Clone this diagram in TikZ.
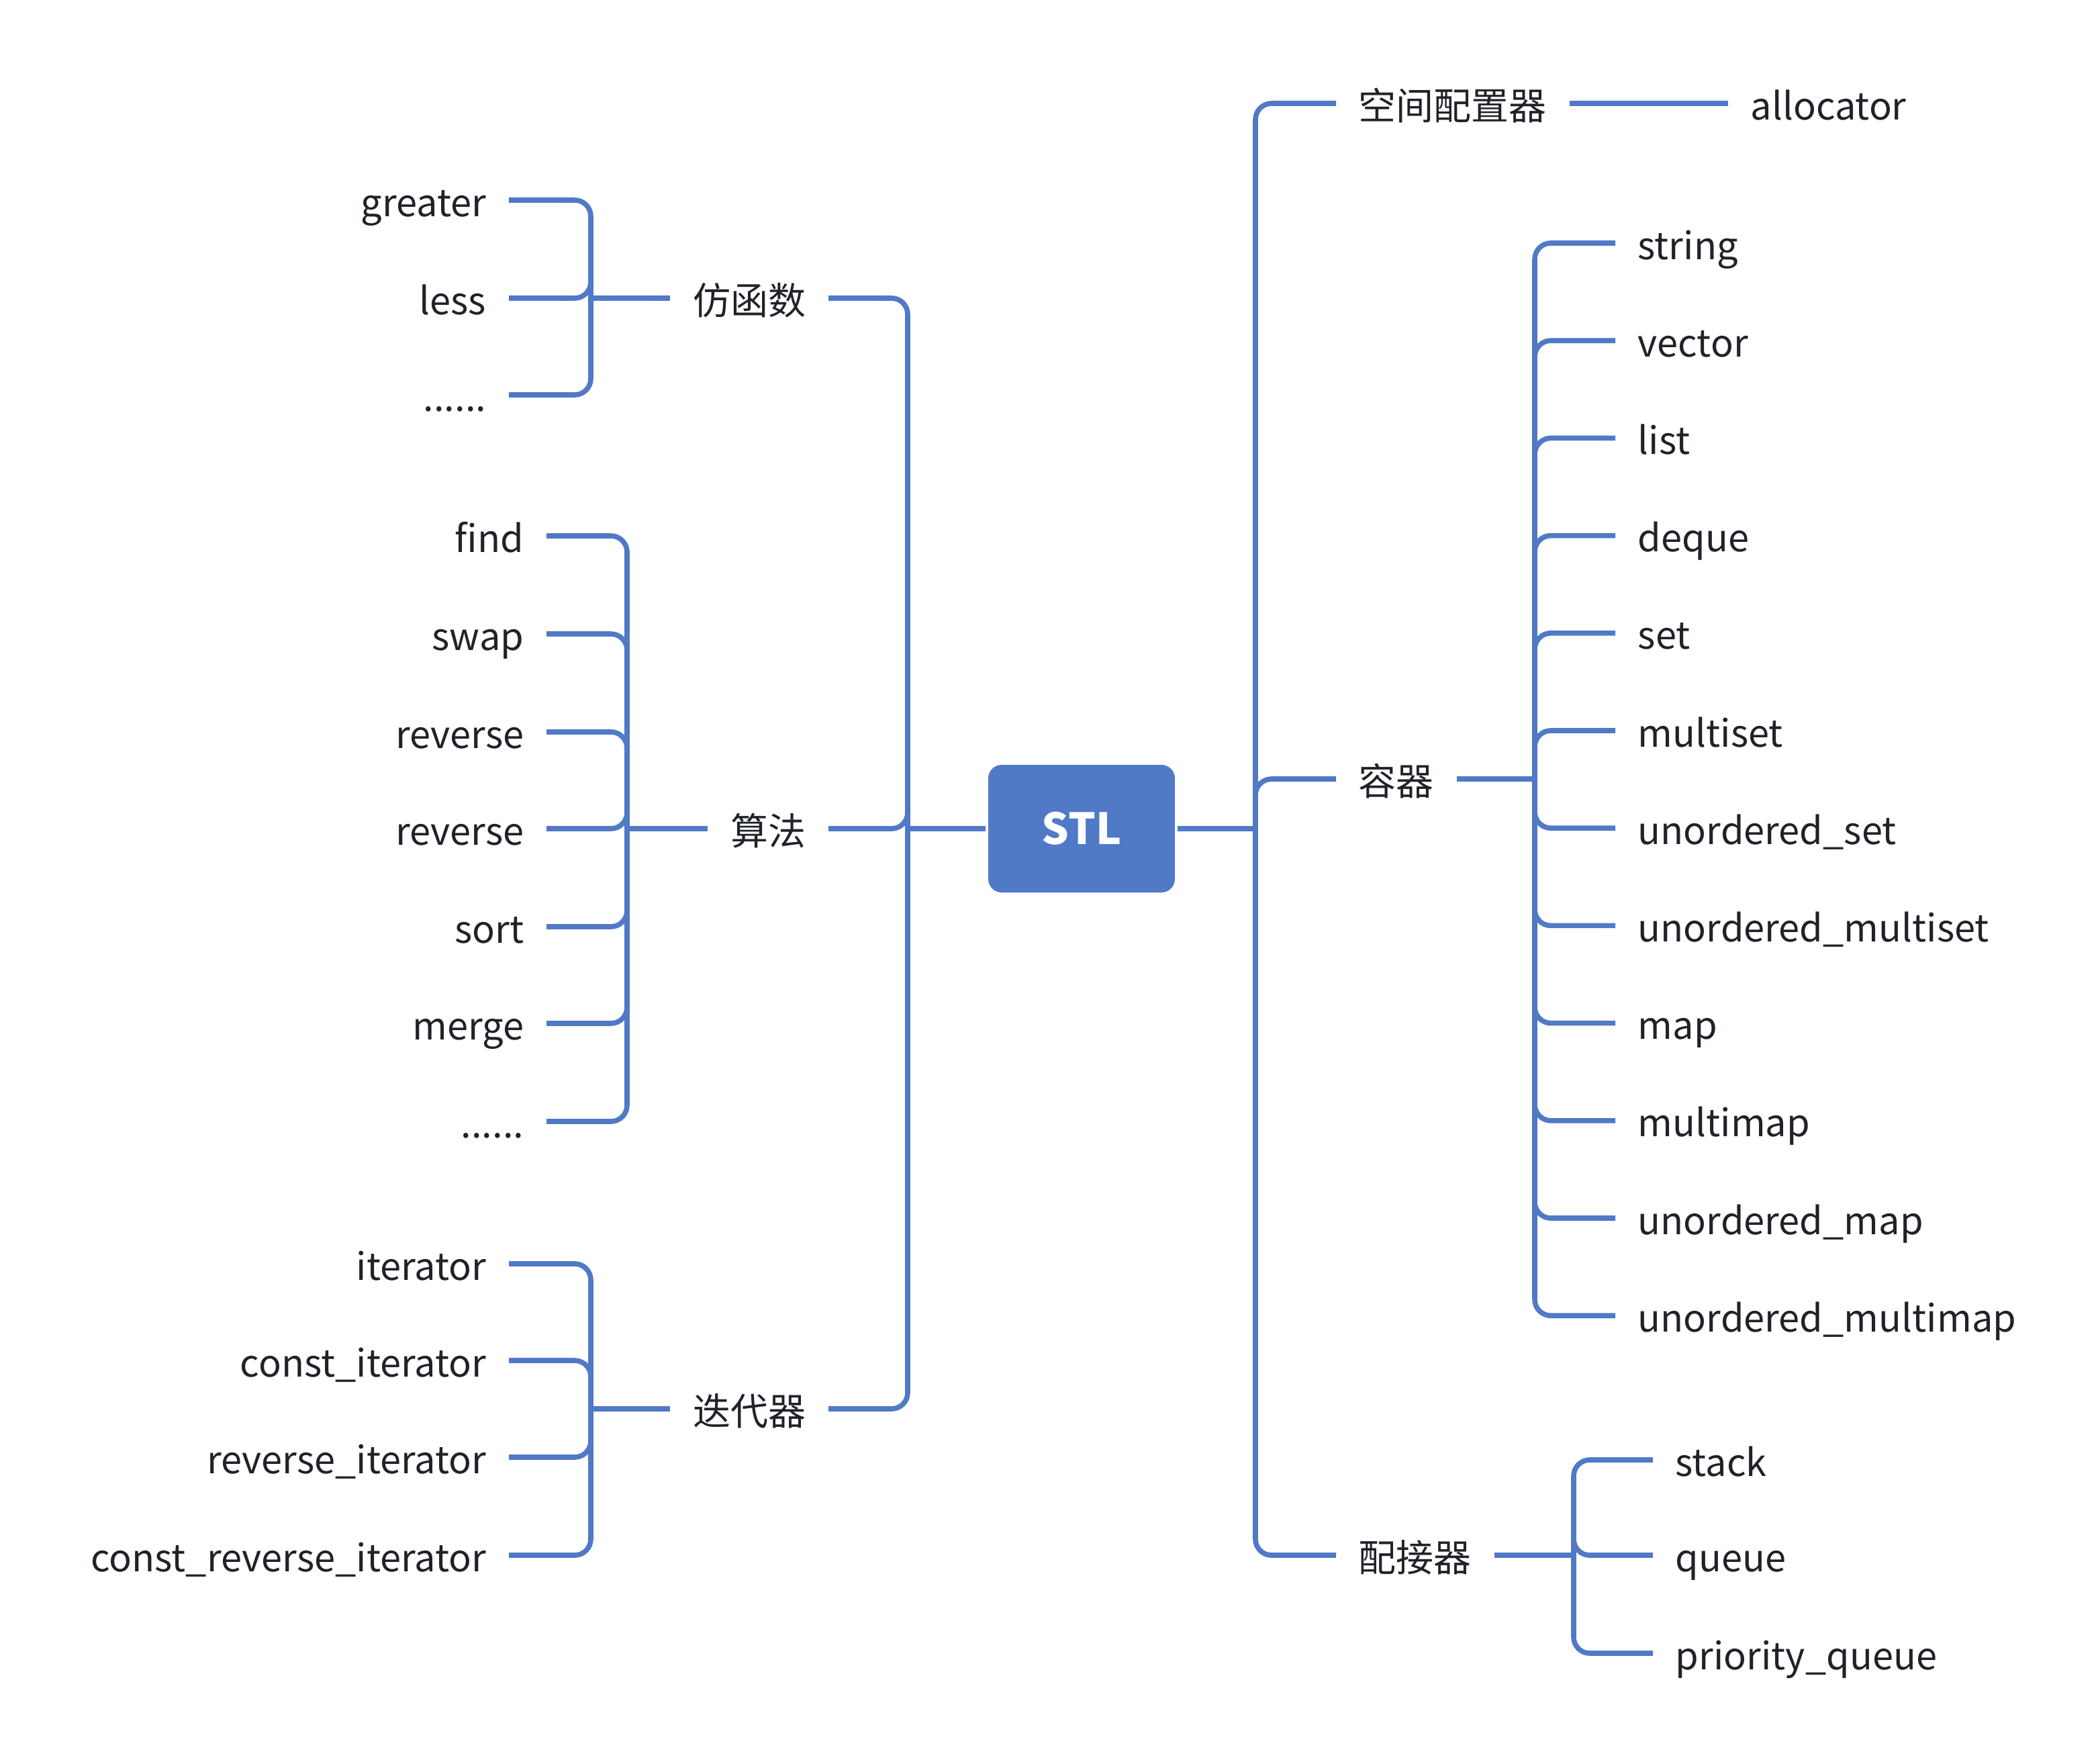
\documentclass[tikz,border=0pt]{standalone}
\usepackage{fontspec}
\newfontfamily\cjk{Noto Sans CJK SC}
\definecolor{branch}{HTML}{5079C6}
\definecolor{ink}{HTML}{1F2329}

\begin{document}
\begin{tikzpicture}[x=1pt,y=-1pt,line width=3.8pt,
    every node/.style={font=\cjk\fontsize{28}{33}\selectfont,text=ink}]
    \tikzstyle{leaf}=[inner xsep=15pt,inner ysep=0pt,text height=24pt,text depth=0pt]
    \tikzstyle{link}=[draw=branch,rounded corners=12pt]
    \tikzstyle{root}=[fill=branch,rounded corners=10pt,minimum width=139pt,
      minimum height=95pt,text=white,font=\cjk\bfseries\fontsize{32}{36}\selectfont]

    \useasboundingbox (0,0) rectangle (1564,1306);

    \node[root] (stl) at (805.5,617) {STL};
    \coordinate (ls) at (676,617);
    \coordinate (rs) at (935,617);

    % left: functors, algorithms, iterators
    \node[leaf,anchor=east] (fang) at (617,222) {仿函数};
    \node[leaf,anchor=east] (suan) at (617,617) {算法};
    \node[leaf,anchor=east] (die) at (617,1049) {迭代器};
    \coordinate (fj) at (440,222);
    \coordinate (sj) at (467,617);
    \coordinate (dj) at (440,1049);

    \node[leaf,anchor=east] (greater) at (379,149) {greater};
    \node[leaf,anchor=east] (less) at (379,222) {less};
    \node[leaf,anchor=east] (fmore) at (379,294) {......};

    \node[leaf,anchor=east] (find) at (407,399) {find};
    \node[leaf,anchor=east] (swap) at (407,472) {swap};
    \node[leaf,anchor=east] (rev) at (407,545) {reverse};
    \node[leaf,anchor=east] (rev2) at (407,617) {reverse};
    \node[leaf,anchor=east] (sort) at (407,690) {sort};
    \node[leaf,anchor=east] (merge) at (407,762) {merge};
    \node[leaf,anchor=east] (smore) at (407,835) {......};

    \node[leaf,anchor=east] (it) at (379,941) {iterator};
    \node[leaf,anchor=east] (cit) at (379,1013) {const\_iterator};
    \node[leaf,anchor=east] (rit) at (379,1085) {reverse\_iterator};
    \node[leaf,anchor=east] (crit) at (379,1158) {const\_reverse\_iterator};

    % right: allocator, containers, adapters
    \node[leaf,anchor=west] (kong) at (995,77) {空间配置器};
    \node[leaf,anchor=west] (rong) at (995,580) {容器};
    \node[leaf,anchor=west] (pei) at (995,1158) {配接器};
    \node[leaf,anchor=west] (alloc) at (1287,77) {allocator};
    \coordinate (rj) at (1143,580);
    \coordinate (pj) at (1172,1158);

    \node[leaf,anchor=west] (str) at (1203,181) {string};
    \node[leaf,anchor=west] (vec) at (1203,253.6) {vector};
    \node[leaf,anchor=west] (lst) at (1203,326.2) {list};
    \node[leaf,anchor=west] (deq) at (1203,398.8) {deque};
    \node[leaf,anchor=west] (set) at (1203,471.4) {set};
    \node[leaf,anchor=west] (mset) at (1203,544) {multiset};
    \node[leaf,anchor=west] (uset) at (1203,616.6) {unordered\_set};
    \node[leaf,anchor=west] (umset) at (1203,689.2) {unordered\_multiset};
    \node[leaf,anchor=west] (map) at (1203,761.8) {map};
    \node[leaf,anchor=west] (mmap) at (1203,834.4) {multimap};
    \node[leaf,anchor=west] (umap) at (1203,907) {unordered\_map};
    \node[leaf,anchor=west] (ummap) at (1203,979.6) {unordered\_multimap};

    \node[leaf,anchor=west] (stk) at (1231,1087) {stack};
    \node[leaf,anchor=west] (que) at (1231,1158) {queue};
    \node[leaf,anchor=west] (pque) at (1231,1231) {priority\_queue};

    % connectors
    \draw[link] (stl.west) -- (ls);
    \draw[link] (stl.east) -- (rs);
    \draw[link] (ls) |- (fang.east);
    \draw[link] (ls) |- (suan.east);
    \draw[link] (ls) |- (die.east);
    \draw[link] (rs) |- (kong.west);
    \draw[link] (rs) |- (rong.west);
    \draw[link] (rs) |- (pei.west);

    \draw[link] (fang.west) -- (fj);
    \draw[link] (fj) |- (greater.east);
    \draw[link] (fj) |- (less.east);
    \draw[link] (fj) |- (fmore.east);

    \draw[link] (suan.west) -- (sj);
    \draw[link] (sj) |- (find.east);
    \draw[link] (sj) |- (swap.east);
    \draw[link] (sj) |- (rev.east);
    \draw[link] (sj) |- (rev2.east);
    \draw[link] (sj) |- (sort.east);
    \draw[link] (sj) |- (merge.east);
    \draw[link] (sj) |- (smore.east);

    \draw[link] (die.west) -- (dj);
    \draw[link] (dj) |- (it.east);
    \draw[link] (dj) |- (cit.east);
    \draw[link] (dj) |- (rit.east);
    \draw[link] (dj) |- (crit.east);

    \draw[link] (kong.east) -- (alloc.west);

    \draw[link] (rong.east) -- (rj);
    \draw[link] (rj) |- (str.west);
    \draw[link] (rj) |- (vec.west);
    \draw[link] (rj) |- (lst.west);
    \draw[link] (rj) |- (deq.west);
    \draw[link] (rj) |- (set.west);
    \draw[link] (rj) |- (mset.west);
    \draw[link] (rj) |- (uset.west);
    \draw[link] (rj) |- (umset.west);
    \draw[link] (rj) |- (map.west);
    \draw[link] (rj) |- (mmap.west);
    \draw[link] (rj) |- (umap.west);
    \draw[link] (rj) |- (ummap.west);

    \draw[link] (pei.east) -- (pj);
    \draw[link] (pj) |- (stk.west);
    \draw[link] (pj) |- (que.west);
    \draw[link] (pj) |- (pque.west);
\end{tikzpicture}
\end{document}
